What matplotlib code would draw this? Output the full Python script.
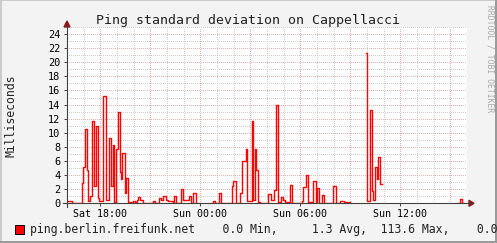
import matplotlib
matplotlib.use("Agg")
import matplotlib.pyplot as plt
import matplotlib.dates as mdates
import numpy as np
import pandas as pd
from matplotlib.patches import Rectangle, Polygon
from matplotlib.lines import Line2D

plt.rcParams['font.family'] = ['DejaVu Sans Mono']

W, H = 497, 243

title = "Ping standard deviation on Cappellacci"
ylabel = "Milliseconds"
source = "ping.berlin.freifunk.net"
v_min, v_avg, v_max, v_last = 0.0, 1.3, 113.6, 0.0
watermark = "RRDTOOL / TOBI OETIKER"

# step samples (clock time, ms); nan = no data
times = ["16:04", "16:18", "16:54", "16:58", "17:05", "17:12", "17:16", "17:23", "17:30", "17:37",
         "17:44", "17:52", "17:55", "18:10", "18:20", "18:31", "18:38", "18:46", "18:49", "18:56",
         "19:02", "19:05", "19:09", "19:13", "19:18", "19:29", "19:32", "19:38", "19:58", "20:05",
         "20:12", "20:17", "20:23", "20:34", "21:10", "21:17", "21:31", "21:38", "21:46", "21:56",
         "22:04", "22:22", "22:25", "22:32", "22:50", "22:58", "23:05", "23:08", "23:19", "23:26",
         "23:34", "23:44", "23:48",
         "00:38", "00:46", "00:53", "01:07", "01:14", "01:54", "01:58", "02:08", "02:23", "02:30",
         "02:44", "02:48", "03:06", "03:11", "03:17", "03:20", "03:28", "03:35", "04:04", "04:14",
         "04:25", "04:32", "04:38", "04:50", "04:58", "05:05", "05:23", "05:30", "06:06", "06:10",
         "06:20", "06:26", "06:46", "06:56", "07:00", "07:07", "07:18", "07:25", "07:58", "08:08",
         "08:23", "08:37", "08:59",
         "09:56", "10:00", "10:11", "10:18", "10:22", "10:29", "10:36", "10:40", "10:47", "10:54",
         "15:24", "15:35", "15:42", "15:46"]
values = [0.3, 0.1, 2.9, 5.1, 10.6, 4.7, 0.3, 1.0, 11.6, 2.4,
          10.9, 0.7, 0.3, 15.2, 0.4, 9.3, 2.4, 8.3, 0.2, 7.7,
          8.0, 13.0, 4.4, 3.4, 7.1, 1.4, 3.6, 0.2, 0.3, 0.2,
          0.4, 0.9, 0.4, 0.1, 0.3, 0.1, 0.8, 0.4, 1.0, 0.4,
          0.3, 0.1, 1.1, 0.1, 2.0, 0.5, 0.4, 0.5, 1.0, 0.1,
          1.4, 0.1, np.nan,
          0.1, 0.3, 0.1, 1.5, 0.1, 2.4, 3.1, 0.1, 1.4, 6.0,
          7.7, 0.3, 11.6, 0.5, 7.7, 4.7, 0.2, 0.1, 1.3, 0.4,
          1.9, 14.0, 0.2, 0.9, 0.5, 0.2, 2.6, 0.1, 0.3, 2.3,
          4.0, 0.2, 3.2, 0.2, 2.1, 0.1, 1.2, 0.1, 2.4, 0.1,
          0.3, 0.2, np.nan,
          21.3, 0.3, 13.3, 1.7, 0.5, 5.2, 3.5, 6.6, 2.8, np.nan,
          0.1, 0.6, 0.1, np.nan]

start = pd.Timestamp("2014-03-15 16:00")  # a Saturday
end = start + pd.Timedelta(hours=24)

stamps = []
for s in times:
    h, m = map(int, s.split(":"))
    ts = pd.Timestamp(2014, 3, 15, h, m)
    if h < 16:
        ts += pd.Timedelta(days=1)
    stamps.append(ts)


def px(x, y):
    return (x / W, 1 - y / H)


fig = plt.figure(figsize=(W / 100, H / 100), dpi=100, facecolor='#f3f3f3')

x0, y0 = px(67, 203.3)
ax = fig.add_axes([x0, y0, 400 / W, 176.3 / H], facecolor='white')
ax.set_xlim(start, end)
ax.set_ylim(0, 25)
for sp in ax.spines.values():
    sp.set_visible(False)

# grid (dotted, rrdtool style)
for h in range(1, 24):
    t = start + pd.Timedelta(hours=h)
    c = '#eeb0b0' if t.hour % 3 == 0 else '#cfcfcf'
    ax.axvline(t, color=c, lw=0.72, ls=(0, (1, 2)), antialiased=False, zorder=1)
for v in range(1, 26):
    c = '#eeb0b0' if v % 2 == 0 else '#cfcfcf'
    ax.axhline(v, color=c, lw=0.72, ls=(0, (1, 2)), antialiased=False, zorder=1)

ax.plot(stamps, values, color='#ff0000', lw=1.0, drawstyle='steps-post', zorder=3)

ax.set_yticks(range(0, 25, 2))
ax.xaxis.set_major_locator(mdates.HourLocator(byhour=[0, 6, 12, 18]))
ax.xaxis.set_major_formatter(mdates.DateFormatter('%a %H:%M'))
ax.tick_params(axis='y', length=2.2, width=0.7, color='#404040', pad=2.5, labelsize=7.4)
ax.tick_params(axis='x', length=2.2, width=0.7, color='#404040', pad=2.2, labelsize=7.2)

# axes with arrows
axis_col = '#404040'
arrow_col = '#8b1a1a'
fig.add_artist(Line2D(*zip(px(63, 203.3), px(470, 203.3)), color=axis_col, lw=0.8))
fig.add_artist(Line2D(*zip(px(67, 207), px(67, 26)), color=axis_col, lw=0.8))
fig.add_artist(Polygon([px(469, 200.3), px(474, 203.3), px(469, 206.3)], closed=True,
                       color=arrow_col, transform=fig.transFigure))
fig.add_artist(Polygon([px(64, 27), px(67, 21), px(70, 27)], closed=True,
                       color=arrow_col, transform=fig.transFigure))

# texts
fig.text(*px(247.5, 24), title, ha='center', va='baseline', fontsize=9.5, color='#222222')
fig.text(*px(11, 116), ylabel, ha='center', va='center', rotation=90, fontsize=8.3,
         color='#222222')
fig.text(*px(490, 5), watermark, ha='center', va='top', rotation=270, fontsize=5.8,
         color='#a8a8a8')

# legend (right end is clipped by the image edge, as in rrdtool output)
fig.add_artist(Rectangle(px(15, 234), 9 / W, 9 / H, facecolor='#ff0000', edgecolor='black',
                         lw=0.7, transform=fig.transFigure))
legend = f"{source}{v_min:7.1f} Min,{v_avg:8.1f} Avg,{v_max:7.1f} Max,{v_last:7.1f} Last"
fig.text(*px(30.5, 233), legend, ha='left', va='baseline', fontsize=8.3, color='#222222')

# 3d frame
fig.add_artist(Line2D(*zip(px(0, 0.5), px(W, 0.5)), color='#cbcbcb', lw=1.4))
fig.add_artist(Line2D(*zip(px(0.5, 0), px(0.5, H)), color='#cbcbcb', lw=1.4))
fig.add_artist(Line2D(*zip(px(W - 1, 0), px(W - 1, H)), color='#999999', lw=1.4))
fig.add_artist(Line2D(*zip(px(0, H - 1), px(W, H - 1)), color='#999999', lw=1.4))

fig.savefig('out.png', dpi=100, facecolor=fig.get_facecolor())
